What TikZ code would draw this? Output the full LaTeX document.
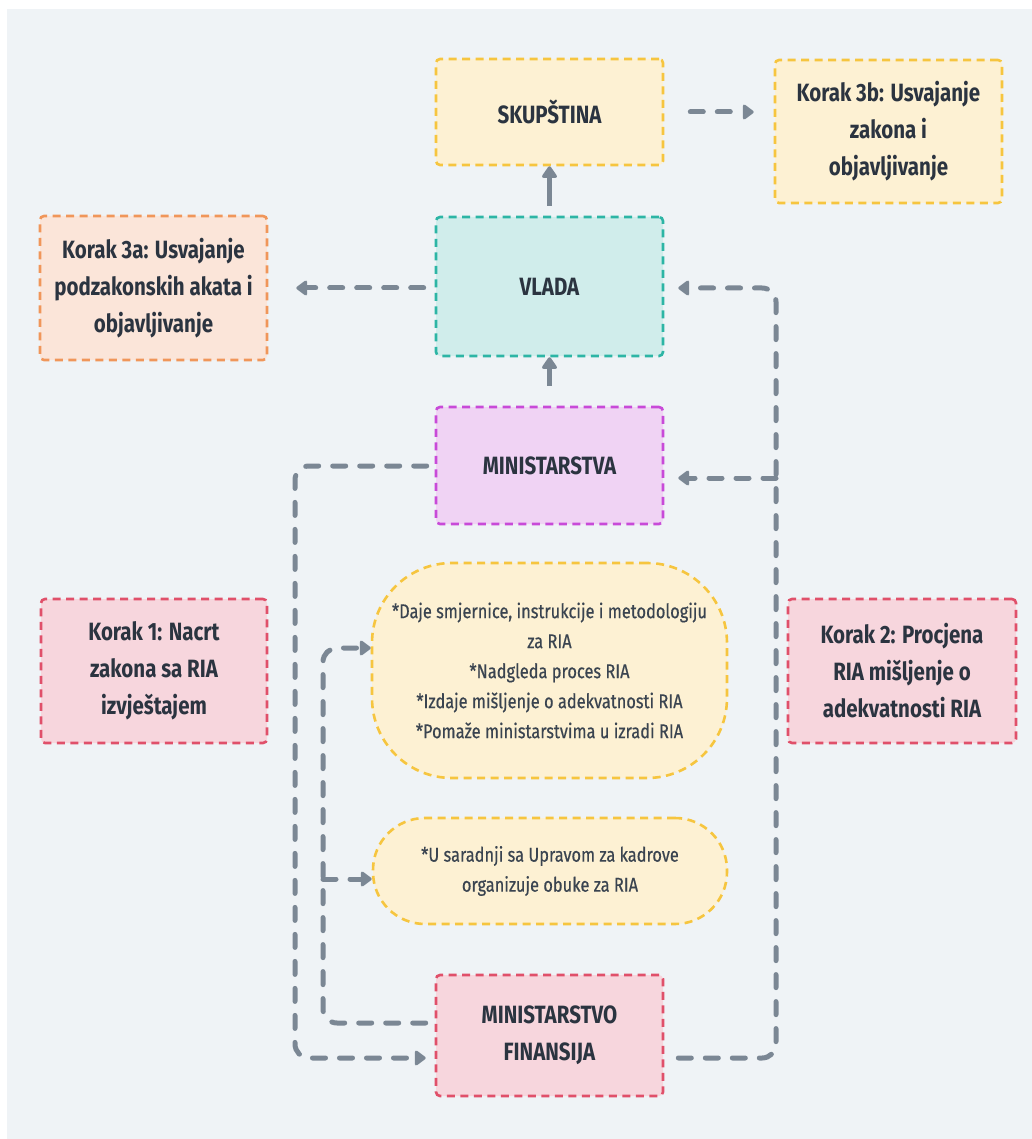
\documentclass[tikz,border=0pt]{standalone}
\usepackage{fontspec}
\setmainfont{Fira Sans}[FakeStretch=0.82]
\newfontfamily\pillfont{Fira Sans}[FakeStretch=0.82,FakeBold=0.5]
\usetikzlibrary{arrows.meta}
\definecolor{bgc}{HTML}{EFF3F6}
\definecolor{txt}{HTML}{2B3440}
\definecolor{txtl}{HTML}{3A4450}
\definecolor{conc}{HTML}{7B8794}
\definecolor{yfill}{HTML}{FDF1D3}
\definecolor{ydraw}{HTML}{F6C53F}
\definecolor{tfill}{HTML}{D0EDEB}
\definecolor{tdraw}{HTML}{2DB5A5}
\definecolor{pfill}{HTML}{FBE5D9}
\definecolor{pdraw}{HTML}{F0965A}
\definecolor{rfill}{HTML}{F7D6DD}
\definecolor{rdraw}{HTML}{E0506A}
\definecolor{mfill}{HTML}{F0D3F4}
\definecolor{mdraw}{HTML}{C84AD8}
\tikzset{
  boxbase/.style={rectangle, rounded corners=4pt, line width=2.6pt, dash pattern=on 8pt off 5.5pt,
    align=center, text=txt, inner sep=0pt, font=\fontsize{25}{37}\selectfont\bfseries},
  ybox/.style={boxbase, draw=ydraw, fill=yfill},
  tbox/.style={boxbase, draw=tdraw, fill=tfill},
  pbox/.style={boxbase, draw=pdraw, fill=pfill},
  rbox/.style={boxbase, draw=rdraw, fill=rfill},
  mbox/.style={boxbase, draw=mdraw, fill=mfill},
  pill/.style={rectangle, draw=ydraw, fill=yfill, line width=2.6pt, dash pattern=on 8pt off 5.5pt,
    align=center, text=txtl, inner sep=0pt, font=\pillfont\fontsize{20}{30}\selectfont},
  conn/.style={draw=conc, line width=5pt, line cap=round, dash pattern=on 13pt off 14pt, rounded corners=14pt},
  solidarr/.style={draw=conc, line width=4.5pt, -{Triangle[length=13pt,width=17pt,round]}},
  tip/.style={-{Triangle[length=12pt,width=17pt,round]}},
}
\begin{document}
\begin{tikzpicture}[x=1pt,y=-1pt]
\useasboundingbox (0,0) rectangle (1032,1139);
\fill[white] (0,0) rectangle (1032,1139);
\fill[bgc] (7,9) rectangle (1032,1139);

\node[ybox, minimum width=227pt, minimum height=106pt] (skup) at (549.5,112) {SKUPŠTINA};
\node[ybox, minimum width=227pt, minimum height=143pt] (k3b) at (888.5,131.5) {Korak 3b: Usvajanje\\zakona i\\objavljivanje};
\node[tbox, minimum width=227pt, minimum height=139pt] (vlada) at (549.5,286.5) {VLADA};
\node[pbox, minimum width=227pt, minimum height=144pt] (k3a) at (153.5,288) {Korak 3a: Usvajanje\\podzakonskih akata i\\objavljivanje};
\node[mbox, minimum width=227pt, minimum height=117pt] (min) at (549.5,465.5) {MINISTARSTVA};
\node[rbox, minimum width=226pt, minimum height=144pt] (k1) at (154,671) {Korak 1: Nacrt\\zakona sa RIA\\izvještajem};
\node[rbox, minimum width=228pt, minimum height=144pt] (k2) at (902,671) {Korak 2: Procjena\\RIA mišljenje o\\adekvatnosti RIA};
\node[pill, rounded corners=80pt, minimum width=355pt, minimum height=215pt] (big) at (549.5,670.5)
  {*Daje smjernice, instrukcije i metodologiju\\za RIA\\*Nadgleda proces RIA\\*Izdaje mišljenje o adekvatnosti RIA\\*Pomaže ministarstvima u izradi RIA};
\node[pill, rounded corners=52pt, minimum width=354pt, minimum height=106pt] (small) at (550,871)
  {*U saradnji sa Upravom za kadrove\\organizuje obuke za RIA};
\node[rbox, minimum width=227pt, minimum height=121pt] (mf) at (549.5,1035.5) {MINISTARSTVO\\FINANSIJA};

% solid vertical arrows
\draw[solidarr] ([yshift=10pt]vlada.north) -- (skup.south);
\draw[solidarr] ([yshift=20pt]min.north) -- (vlada.south);

% skupstina -> 3b
\draw[conn, tip] ([xshift=26pt]skup.east) -- ([xshift=-20pt]k3b.west |- skup.east);
% vlada -> 3a
\draw[conn, tip] ([xshift=-11pt]vlada.west |- 0,288) -- ([xshift=28pt]k3a.east |- 0,288);

% left outer: ministarstva -> MF
\coordinate (oa) at (295,466);
\coordinate (ob) at (295,1058);
\draw[conn, tip] ([xshift=-8pt]min.west |- oa) -- (oa) -- (ob) -- ([xshift=-9pt]mf.west |- ob);

% inner: MF -> pills
\coordinate (ia) at (323,1023);
\coordinate (ib) at (323,648);
\coordinate (ic) at (323,879);
\draw[conn, tip] ([xshift=-9pt]mf.west |- ia) -- (ia) -- (ib) -- (big.west |- ib);
\draw[conn, tip, rounded corners=0pt] (ic) -- (small.west |- ic);

% right: MF -> vlada, ministarstva
\coordinate (ra) at (776,1058);
\coordinate (rb) at (776,288);
\coordinate (rc) at (776,478);
\draw[conn, tip] ([xshift=14pt]mf.east |- ra) -- (ra) -- (rb) -- ([xshift=14pt]vlada.east |- rb);
\draw[conn, tip, rounded corners=0pt] (rc) -- ([xshift=14pt]min.east |- rc);
\end{tikzpicture}
\end{document}
